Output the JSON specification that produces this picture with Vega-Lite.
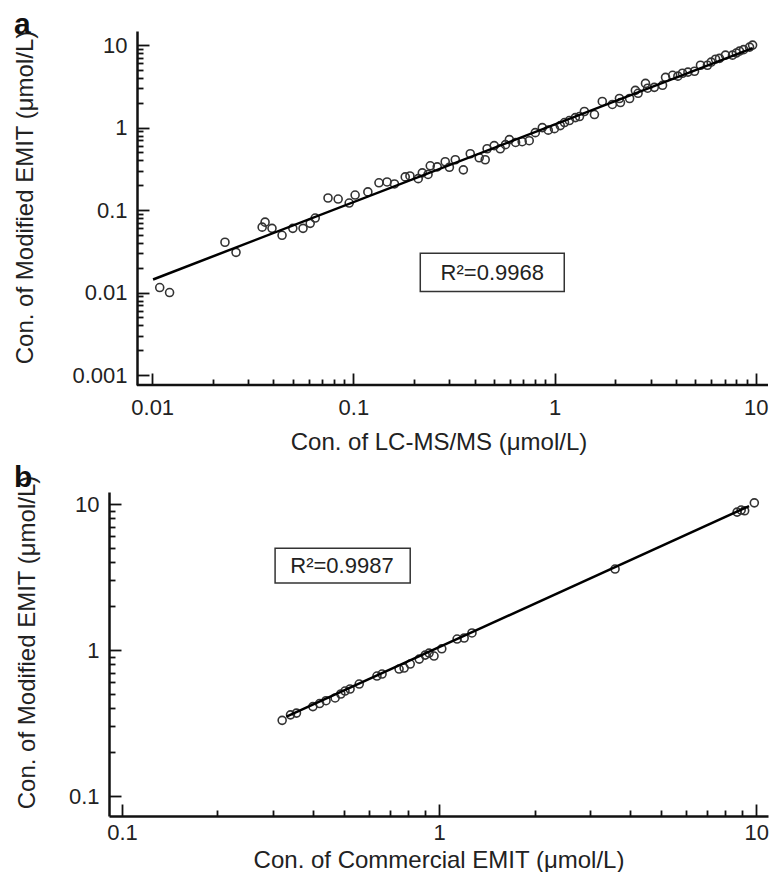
{
  "$schema": "https://vega.github.io/schema/vega-lite/v6.json",
  "padding": {"left": 12, "top": 10, "right": 3, "bottom": 0},
  "background": "white",
  "config": {
    "view": {"stroke": null},
    "font": "Liberation Sans",
    "axis": {"domainColor": "#111", "domainWidth": 2.5, "tickColor": "#111", "tickWidth": 1.8, "labelFontSize": 22, "labelColor": "#222", "titleFontSize": 24, "titleFontWeight": "normal", "titleColor": "#222", "grid": false, "labelFont": "Liberation Sans", "titleFont": "Liberation Sans", "labelOverlap": false, "labelFlush": false, "format": "~g"},
    "axisX": {"labelPadding": 24, "titlePadding": 12},
    "axisY": {"labelPadding": 22},
    "title": {"fontSize": 30, "fontWeight": "bold", "anchor": "start", "color": "#111", "frame": "group", "font": "Liberation Sans", "offset": -10, "dx": -95}
  },
  "spacing": 9,
  "vconcat": [
    {
      "title": {"text": "a"},
      "width": 659,
      "height": 354,
      "resolve": {"axis": {"x": "independent", "y": "independent"}},
      "layer": [
        {
          "data": {"values": [
            {"x": 0.0109, "y": 0.0115}, {"x": 0.0122, "y": 0.0100}, {"x": 0.0230, "y": 0.0407}, {"x": 0.0261, "y": 0.0307},
            {"x": 0.0352, "y": 0.0620}, {"x": 0.0364, "y": 0.0713}, {"x": 0.0394, "y": 0.0600}, {"x": 0.0442, "y": 0.0494},
            {"x": 0.0500, "y": 0.0600}, {"x": 0.0562, "y": 0.0600}, {"x": 0.0610, "y": 0.0690}, {"x": 0.0646, "y": 0.0800},
            {"x": 0.0748, "y": 0.140}, {"x": 0.0840, "y": 0.136}, {"x": 0.0953, "y": 0.1216}, {"x": 0.102, "y": 0.152},
            {"x": 0.118, "y": 0.166}, {"x": 0.134, "y": 0.214}, {"x": 0.147, "y": 0.219}, {"x": 0.160, "y": 0.207},
            {"x": 0.181, "y": 0.252}, {"x": 0.191, "y": 0.259}, {"x": 0.220, "y": 0.282}, {"x": 0.241, "y": 0.344},
            {"x": 0.261, "y": 0.334}, {"x": 0.286, "y": 0.385}, {"x": 0.321, "y": 0.407}, {"x": 0.352, "y": 0.307},
            {"x": 0.381, "y": 0.481}, {"x": 0.422, "y": 0.430}, {"x": 0.452, "y": 0.407}, {"x": 0.462, "y": 0.553},
            {"x": 0.501, "y": 0.603}, {"x": 0.537, "y": 0.553}, {"x": 0.596, "y": 0.713}, {"x": 0.690, "y": 0.674},
            {"x": 0.748, "y": 0.693}, {"x": 0.802, "y": 0.867}, {"x": 0.869, "y": 0.998}, {"x": 0.998, "y": 0.970},
            {"x": 1.067, "y": 1.056}, {"x": 1.184, "y": 1.216}, {"x": 1.268, "y": 1.32}, {"x": 1.406, "y": 1.564},
            {"x": 1.578, "y": 1.438}, {"x": 1.726, "y": 2.07}, {"x": 1.937, "y": 1.905}, {"x": 2.10, "y": 2.25},
            {"x": 2.125, "y": 2.01}, {"x": 2.36, "y": 2.25}, {"x": 2.52, "y": 2.82}, {"x": 2.83, "y": 3.43},
            {"x": 3.13, "y": 3.07}, {"x": 3.44, "y": 3.25}, {"x": 3.56, "y": 4.06}, {"x": 3.86, "y": 4.30},
            {"x": 4.32, "y": 4.55}, {"x": 4.96, "y": 4.81}, {"x": 5.31, "y": 5.69}, {"x": 5.75, "y": 5.69},
            {"x": 6.31, "y": 6.74}, {"x": 7.07, "y": 7.54}, {"x": 7.66, "y": 7.54}, {"x": 8.30, "y": 8.43},
            {"x": 9.31, "y": 9.44}, {"x": 9.64, "y": 9.98},
            {"x": 0.21, "y": 0.24}, {"x": 0.235, "y": 0.27}, {"x": 0.30, "y": 0.33}, {"x": 0.57, "y": 0.62},
            {"x": 0.64, "y": 0.66}, {"x": 0.93, "y": 0.93}, {"x": 1.12, "y": 1.15}, {"x": 1.33, "y": 1.36},
            {"x": 2.6, "y": 2.6}, {"x": 2.9, "y": 3.0}, {"x": 4.1, "y": 4.2}, {"x": 4.6, "y": 4.7},
            {"x": 6.0, "y": 6.2}, {"x": 6.6, "y": 6.9}, {"x": 8.0, "y": 8.0}, {"x": 8.7, "y": 8.8}
          ]},
          "mark": {"type": "point", "shape": "circle", "size": 64, "filled": false, "stroke": "#333", "strokeWidth": 1.6, "opacity": 1},
          "encoding": {
            "x": {"field": "x", "type": "quantitative",
              "scale": {"type": "log", "domain": [0.0061, 11.5], "nice": false},
              "axis": {"orient": "bottom", "title": "Con. of LC-MS/MS (μmol/L)", "domain": false,
                "values": [0.01, 0.1, 1, 10], "tickSize": -12}},
            "y": {"field": "y", "type": "quantitative",
              "scale": {"type": "log", "domain": [0.000757, 14.8], "nice": false},
              "axis": {"orient": "left", "offset": -28, "title": "Con. of Modified EMIT (μmol/L)", "titleX": -100, "titleY": 166,
                "values": [0.001, 0.01, 0.1, 1, 10], "tickSize": -12}}
          }
        },
        {
          "data": {"values": [{"x": 0.0101, "y": 0.0144}, {"x": 9.64, "y": 9.18}]},
          "mark": {"type": "line", "color": "#000", "strokeWidth": 2.5},
          "encoding": {
            "x": {"field": "x", "type": "quantitative",
              "axis": {"orient": "bottom", "title": null, "labels": false, "domain": false, "tickSize": -6,
                "values": [0.02,0.03,0.04,0.05,0.06,0.07,0.08,0.09,0.2,0.3,0.4,0.5,0.6,0.7,0.8,0.9,2,3,4,5,6,7,8,9]}},
            "y": {"field": "y", "type": "quantitative",
              "axis": {"orient": "left", "offset": -28, "title": null, "labels": false, "domain": false, "tickSize": -6,
                "values": [0.002,0.003,0.004,0.005,0.006,0.007,0.008,0.009,0.02,0.03,0.04,0.05,0.06,0.07,0.08,0.09,0.2,0.3,0.4,0.5,0.6,0.7,0.8,0.9,2,3,4,5,6,7,8,9]}}
          }
        },
        {
          "data": {"values": [{"from": 0.0084, "to": 11.5, "base": 0.000757}]},
          "mark": {"type": "rule", "color": "#111", "strokeWidth": 2.5},
          "encoding": {
            "x": {"field": "from", "type": "quantitative", "axis": null},
            "x2": {"field": "to"},
            "y": {"field": "base", "type": "quantitative", "axis": null}
          }
        },
        {
          "data": {"values": [{"label": "R²=0.9968"}]},
          "mark": {"type": "rect", "fill": "white", "stroke": "#333", "strokeWidth": 1.5},
          "encoding": {"x": {"datum": 0.215, "axis": null}, "x2": {"datum": 1.117}, "y": {"datum": 0.0299, "axis": null}, "y2": {"datum": 0.01026}}
        },
        {
          "data": {"values": [{"label": "R²=0.9968"}]},
          "mark": {"type": "text", "fontSize": 22, "color": "#222", "font": "Liberation Sans"},
          "encoding": {"x": {"datum": 0.49, "axis": null}, "y": {"datum": 0.0174, "axis": null}, "text": {"field": "label"}}
        }
      ]
    },
    {
      "title": {"text": "b", "offset": -18},
      "width": 659,
      "height": 324,
      "resolve": {"axis": {"x": "independent", "y": "independent"}},
      "layer": [
        {
          "data": {"values": [
            {"x": 0.32, "y": 0.33}, {"x": 0.34, "y": 0.36}, {"x": 0.355, "y": 0.37}, {"x": 0.40, "y": 0.41},
            {"x": 0.42, "y": 0.43}, {"x": 0.44, "y": 0.45}, {"x": 0.47, "y": 0.47}, {"x": 0.49, "y": 0.50},
            {"x": 0.505, "y": 0.524}, {"x": 0.524, "y": 0.541}, {"x": 0.560, "y": 0.585}, {"x": 0.637, "y": 0.664},
            {"x": 0.661, "y": 0.685}, {"x": 0.748, "y": 0.741}, {"x": 0.776, "y": 0.753}, {"x": 0.811, "y": 0.802},
            {"x": 0.866, "y": 0.867}, {"x": 0.904, "y": 0.924}, {"x": 0.930, "y": 0.953}, {"x": 0.964, "y": 0.91},
            {"x": 1.02, "y": 1.02}, {"x": 1.14, "y": 1.19}, {"x": 1.20, "y": 1.21}, {"x": 1.27, "y": 1.31},
            {"x": 3.59, "y": 3.59}, {"x": 8.71, "y": 8.81}, {"x": 8.97, "y": 9.1}, {"x": 9.2, "y": 9.0}, {"x": 9.87, "y": 10.2}
          ]},
          "mark": {"type": "point", "shape": "circle", "size": 64, "filled": false, "stroke": "#333", "strokeWidth": 1.6, "opacity": 1},
          "encoding": {
            "x": {"field": "x", "type": "quantitative",
              "scale": {"type": "log", "domain": [0.091, 10.9], "nice": false},
              "axis": {"orient": "bottom", "title": "Con. of Commercial EMIT (μmol/L)", "labelPadding": 18, "titlePadding": 5,
                "values": [0.1, 1, 10], "tickSize": -12}},
            "y": {"field": "y", "type": "quantitative",
              "scale": {"type": "log", "domain": [0.073, 12.1], "nice": false},
              "axis": {"orient": "left", "title": "Con. of Modified EMIT (μmol/L)", "titleX": -70, "titleY": 150,
                "values": [0.1, 1, 10], "tickSize": -12}}
          }
        },
        {
          "data": {"values": [{"x": 0.33, "y": 0.35}, {"x": 9.5, "y": 9.69}]},
          "mark": {"type": "line", "color": "#000", "strokeWidth": 2.5},
          "encoding": {
            "x": {"field": "x", "type": "quantitative",
              "axis": {"orient": "bottom", "title": null, "labels": false, "domain": false, "tickSize": -6,
                "values": [0.2,0.3,0.4,0.5,0.6,0.7,0.8,0.9,2,3,4,5,6,7,8,9]}},
            "y": {"field": "y", "type": "quantitative",
              "axis": {"orient": "left", "title": null, "labels": false, "domain": false, "tickSize": -6,
                "values": [0.2,0.3,0.4,0.5,0.6,0.7,0.8,0.9,2,3,4,5,6,7,8,9]}}
          }
        },
        {
          "data": {"values": [{"label": "R²=0.9987"}]},
          "mark": {"type": "rect", "fill": "white", "stroke": "#333", "strokeWidth": 1.5},
          "encoding": {"x": {"datum": 0.304, "axis": null}, "x2": {"datum": 0.811}, "y": {"datum": 4.99, "axis": null}, "y2": {"datum": 2.88}}
        },
        {
          "data": {"values": [{"label": "R²=0.9987"}]},
          "mark": {"type": "text", "fontSize": 22, "color": "#222", "font": "Liberation Sans"},
          "encoding": {"x": {"datum": 0.494, "axis": null}, "y": {"datum": 3.76, "axis": null}, "text": {"field": "label"}}
        }
      ]
    }
  ]
}
